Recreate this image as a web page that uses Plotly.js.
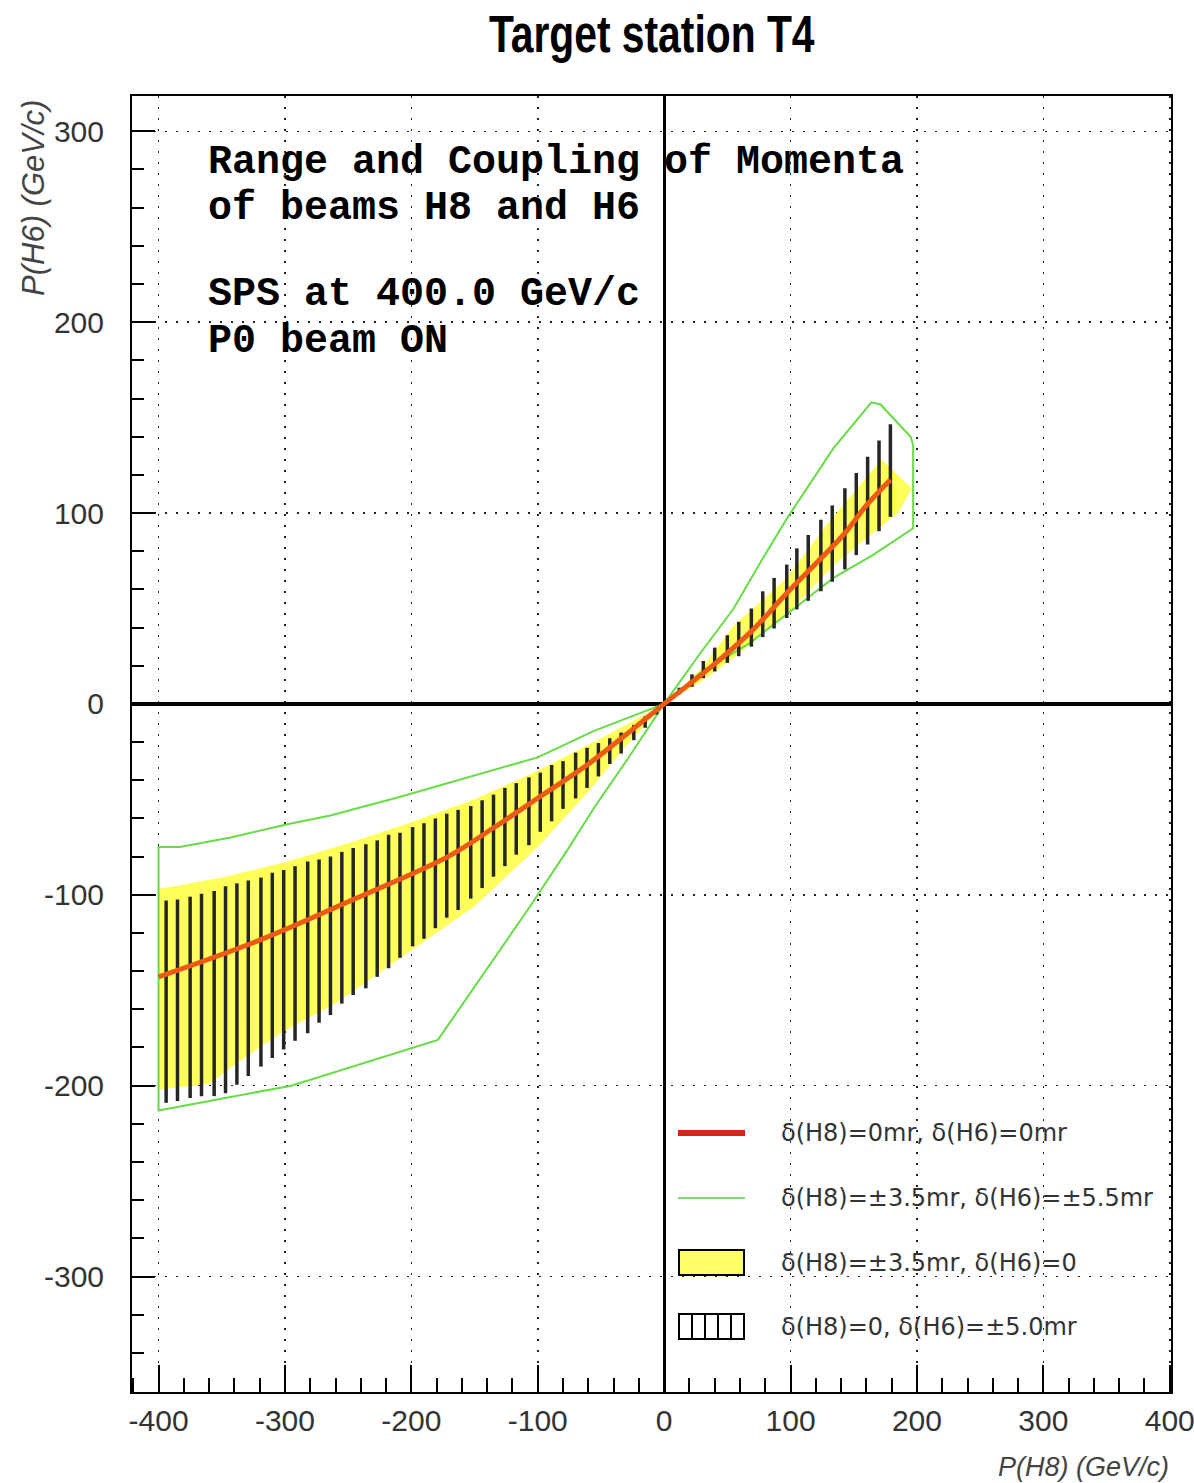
<!DOCTYPE html>
<html><head><meta charset="utf-8">
<script src="https://cdn.plot.ly/plotly-3.0.1.min.js"></script>
<style>html,body{margin:0;padding:0;background:#fff}#chart{width:1194px;height:1483px}</style>
</head><body><div id="chart"></div>
<script>
// Central curve: delta(H8)=0, delta(H6)=0
const redX = [-400,-319,-246,-171,-134,-98,-61,-30,0,40,69,97,123,143,160,179];
const redY = [-143,-123.5,-102.5,-80,-64.5,-48.5,-32,-16,0,21,38,58,75.5,89.5,104,117.5];

// Envelope: delta(H8)=±3.5mr, delta(H6)=±5.5mr (negative branch, closed)
const greenNegX = [0,-29,-55,-100,-208,-264,-298,-343,-383,-400,-400,-295,-203,-179,-106,-77,-55,-29,0];
const greenNegY = [0,-7.5,-14,-28,-48.5,-58.5,-63,-70,-75,-75,-213,-200,-181,-176,-106,-77,-54,-29,0];
// positive branch, closed
const greenPosX = [0,28,55,76,97,134,164,171,195,197,197,165,134,68,28,0];
const greenPosY = [0,26,50,74,97,134,158,157,140,135.5,92,78,66,32,16,0];

// Band: delta(H8)=±3.5mr, delta(H6)=0
const yellowNegX = [-400,-350,-300,-250,-200,-150,-100,-50,0,-30,-60,-100,-150,-200,-260,-300,-340,-360,-400];
const yellowNegY = [-97,-91,-83,-73,-62,-50,-35,-18,0,-22,-46,-75,-106,-129,-157,-171,-189,-199,-202];
const yellowPosX = [0,30,55,97,130,160,172,196,185,170,155,135,97,55,30,0];
const yellowPosY = [0,19,41,66,95,119,128,113,100,92,84,73,47,24,12,0];

// Ranges: delta(H8)=0, delta(H6)=±5.0mr
const barX = [-394,-385,-375,-366,-356,-347,-338,-329,-319,-310,-301,-292,-282,-273,-264,-255,-246,-236,-227,-218,-209,-199,-190,-181,-172,-163,-153,-144,-135,-126,-117,-107,-98,-89,-80,-70,-61,-52,-43,-34,-24,-15,-6,
              12,22,31,40,50,59,69,78,87,97,105,114,124,133,143,152,161,170,179];
const barHigh = [-103,-102.5,-101,-99.5,-98,-95.5,-94,-92.5,-91,-88.5,-87,-85,-82.5,-81.5,-80,-77.5,-75.5,-73.5,-71.5,-68.5,-67.5,-64.5,-62.5,-60,-57.5,-55.5,-53.5,-50.5,-47.5,-44,-41.5,-38.5,-36,-32,-30,-25.5,-23,-20.5,-18,-15,-11,-6.5,-2.5,
                 8.5,15.5,22.5,29.5,36,43,50,59,66,73,81.5,88.5,96.5,104,113,121,129.5,138,146.5];
const barLow = [-209,-208,-206.5,-205.5,-205.5,-204,-199.5,-195,-190,-185.5,-181,-176.5,-172.5,-167,-163,-157,-152.5,-149,-143,-138.5,-133,-127,-123,-117.5,-112,-108,-102,-96.5,-90.5,-85,-79,-74,-67,-61.5,-55,-49.5,-44,-38,-31.5,-26,-19,-12.5,-5.5,
                5,9,13.5,17,21.5,25,30,35,39.5,45,49.5,54,59,64,70.5,78,83.5,90.5,98];

const xTicks = [-400,-300,-200,-100,0,100,200,300,400];
const yTicks = [-300,-200,-100,0,100,200,300];

const legendLabels = ['δ(H8)=0mr, δ(H6)=0mr','δ(H8)=±3.5mr, δ(H6)=±5.5mr','δ(H8)=±3.5mr, δ(H6)=0','δ(H8)=0, δ(H6)=±5.0mr'];
const infoLines = ['Range and Coupling of Momenta','of beams H8 and H6','SPS at 400.0 GeV/c','P0 beam ON'];

// build bar segments
const segX = [], segY = [];
barX.forEach((x,i)=>{ segX.push(x,x,null); segY.push(barLow[i],barHigh[i],null); });

const YEL = '#ffff5c', GRN = '#66dd44';
const traces = [
  {x:yellowNegX,y:yellowNegY,mode:'lines',fill:'toself',fillcolor:YEL,line:{width:0,color:YEL},name:legendLabels[2],hoverinfo:'skip'},
  {x:yellowPosX,y:yellowPosY,mode:'lines',fill:'toself',fillcolor:YEL,line:{width:0,color:YEL},name:legendLabels[2],hoverinfo:'skip'},
  {x:greenNegX,y:greenNegY,mode:'lines',line:{color:GRN,width:2},name:legendLabels[1]},
  {x:greenPosX,y:greenPosY,mode:'lines',line:{color:GRN,width:2},name:legendLabels[1]},
  {x:segX,y:segY,mode:'lines',line:{color:'#262626',width:3.5},name:legendLabels[3],connectgaps:false},
  {x:redX,y:redY,mode:'lines',line:{color:'#ec5a16',width:5,shape:'spline'},name:legendLabels[0]}
];

// plot-area mapping for legend placement (paper coords)
const L=132, R=1171, T=96, B=1392;
const px = v => (v-L)/(R-L);
const py = v => (B-v)/(B-T);

const shapes = [
  {type:'line',xref:'paper',yref:'paper',x0:px(678),x1:px(745),y0:py(1133),y1:py(1133),line:{color:'#e0201b',width:6}},
  {type:'line',xref:'paper',yref:'paper',x0:px(678),x1:px(745),y0:py(1198),y1:py(1198),line:{color:'#7fd96a',width:2}},
  {type:'rect',xref:'paper',yref:'paper',x0:px(679),x1:px(744),y0:py(1275),y1:py(1250),fillcolor:'#ffff66',line:{color:'#000',width:2}},
  {type:'rect',xref:'paper',yref:'paper',x0:px(679),x1:px(744),y0:py(1339),y1:py(1314),fillcolor:'#fff',line:{color:'#000',width:2}}
];
[692,705,718,731].forEach(v=>shapes.push({type:'line',xref:'paper',yref:'paper',x0:px(v),x1:px(v),y0:py(1339),y1:py(1314),line:{color:'#000',width:2}}));

const annotations = [];
const legY = [1133,1198,1263,1327];
legendLabels.forEach((t,i)=>annotations.push({xref:'paper',yref:'paper',x:px(779),y:py(legY[i]),xanchor:'left',yanchor:'middle',showarrow:false,text:t,font:{family:'DejaVu Sans, sans-serif',size:24,color:'#333'}}));
const infoYpx = [162,208,295,341];
infoLines.forEach((t,i)=>annotations.push({xref:'paper',yref:'paper',x:px(206),y:py(infoYpx[i]),xanchor:'left',yanchor:'middle',showarrow:false,text:'<b>'+t+'</b>',font:{family:'Liberation Mono, Courier New, monospace',size:40,color:'#000'}}));
// axis titles
annotations.push({xref:'paper',yref:'paper',x:1.0,y:py(1467),xanchor:'right',yanchor:'middle',showarrow:false,text:'<i>P(H8) (GeV/c)</i>',font:{family:'Liberation Sans, sans-serif',size:27,color:'#444'}});
annotations.push({xref:'paper',yref:'paper',x:px(33),y:py(198),xanchor:'center',yanchor:'middle',textangle:-90,showarrow:false,text:'<i>P(H6) (GeV/c)</i>',font:{family:'Liberation Sans, sans-serif',size:31,color:'#444'}});

const tickFont = {family:'Liberation Sans, sans-serif',size:30,color:'#333'};
const layout = {
  width:1194,height:1483,
  margin:{l:L,r:1194-R,t:T,b:1483-B},
  paper_bgcolor:'#fff',plot_bgcolor:'#fff',
  showlegend:false,
  title:{text:'<b>Target station T4</b>',font:{family:'Liberation Sans, sans-serif',size:51,color:'#000'},x:651.7/1194,xref:'container',xanchor:'center',y:1-34/1483,yref:'container',yanchor:'middle'},
  xaxis:{range:[-421,401],tickvals:xTicks,ticktext:xTicks.map(String),ticks:'inside',ticklen:27,tickwidth:2,tickcolor:'#000',
    minor:{dtick:20,tick0:0,ticks:'inside',ticklen:14,tickwidth:2,tickcolor:'#000',showgrid:false},
    showline:true,linecolor:'#000',linewidth:2,mirror:true,
    showgrid:true,gridcolor:'#222',gridwidth:1.6,griddash:'2px,9px',
    zeroline:true,zerolinecolor:'#000',zerolinewidth:3,
    tickfont:tickFont,ticklabelstandoff:1,ticklabeloverflow:'allow',fixedrange:true},
  yaxis:{range:[-360.5,318.5],tickvals:yTicks,ticktext:yTicks.map(String),ticks:'inside',ticklen:23,tickwidth:2,tickcolor:'#000',
    minor:{dtick:20,tick0:0,ticks:'inside',ticklen:12,tickwidth:2,tickcolor:'#000',showgrid:false},
    showline:true,linecolor:'#000',linewidth:2,mirror:true,
    showgrid:true,gridcolor:'#222',gridwidth:1.6,griddash:'2px,9px',
    zeroline:true,zerolinecolor:'#000',zerolinewidth:4,
    tickfont:tickFont,ticklabelstandoff:20,ticklabeloverflow:'allow',fixedrange:true},
  shapes:shapes,
  annotations:annotations
};
Plotly.newPlot('chart',traces,layout,{displayModeBar:false,staticPlot:true}).then(()=>{
  // condense the title horizontally, as in the reference's narrow bold face
  const t = document.querySelector('.gtitle');
  if (t) {
    const cx = parseFloat(t.getAttribute('x')) || 651.7;
    const s = 0.8;
    t.setAttribute('transform', 'translate(' + (cx*(1-s)) + ',0) scale(' + s + ',1)');
  }
});
</script></body></html>
